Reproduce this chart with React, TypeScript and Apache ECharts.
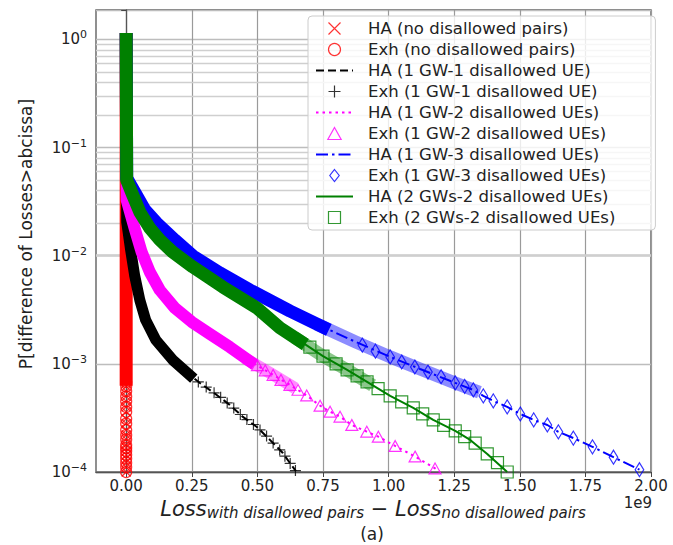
import { useEffect, useRef } from "react";
import * as echarts from "echarts";

const FONT = "DejaVu Sans";
const X_TICKS = [0, 0.25, 0.5, 0.75, 1, 1.25, 1.5, 1.75, 2];
const X_EXPONENT_LABEL = "1e9";
const Y_MINOR = [
  2e-4, 3e-4, 4e-4, 5e-4, 6e-4, 7e-4, 8e-4, 9e-4,
  2e-3, 3e-3, 4e-3, 5e-3, 6e-3, 7e-3, 8e-3, 9e-3,
  2e-2, 3e-2, 4e-2, 5e-2, 6e-2, 7e-2, 8e-2, 9e-2,
  0.2, 0.3, 0.4, 0.5, 0.6, 0.7, 0.8, 0.9,
];

// red: no disallowed pairs (all differences are zero)
const redColumnX = [0, 0];
const redColumnP = [1, 0.00072];
const redMarkP = [0.00068, 0.00062, 0.00056, 0.0005, 0.00045, 0.0004, 0.00036, 0.00031, 0.00028, 0.000245, 0.00022, 0.0002, 0.000178, 0.000167, 0.000156, 0.000144, 0.000133, 0.000122, 0.000111, 0.0001, 0.000092];

// black: 1 GW - 1 disallowed UE
const blackX = [0, 0.002, 0.017, 0.032, 0.052, 0.074, 0.113, 0.177, 0.242, 0.281, 0.345, 0.395, 0.445, 0.498, 0.548, 0.597, 0.624, 0.647];
const blackP = [1, 0.0205, 0.0113, 0.00663, 0.00388, 0.00255, 0.00166, 0.00109, 0.000789, 0.000666, 0.000516, 0.000417, 0.000323, 0.000261, 0.000198, 0.00015, 0.000121, 0.000102];
const blackMarkX = [0.19, 0.215, 0.245, 0.275, 0.305, 0.335, 0.36, 0.385, 0.41, 0.435, 0.46, 0.485, 0.51, 0.535, 0.56, 0.585, 0.605, 0.625, 0.645];
const blackMarkP = [0.001, 0.0009, 0.00078, 0.00068, 0.00061, 0.00054, 0.00049, 0.000435, 0.00039, 0.00034, 0.000305, 0.000275, 0.000245, 0.000215, 0.000185, 0.00016, 0.00014, 0.00012, 0.000103];

// magenta: 1 GW - 2 disallowed UEs
const magX = [0, 0.002, 0.032, 0.059, 0.09, 0.128, 0.185, 0.25, 0.319, 0.395, 0.471, 0.548, 0.624, 0.688, 0.739, 0.777, 0.815, 0.86, 0.917, 0.961, 1.025, 1.101, 1.177, 1.195];
const magP = [1, 0.0327, 0.018, 0.0108, 0.00707, 0.00482, 0.00329, 0.00244, 0.00189, 0.00143, 0.00106, 0.000824, 0.000638, 0.00051, 0.00041, 0.000361, 0.000325, 0.000272, 0.000236, 0.000212, 0.000174, 0.000139, 0.000108, 0.0001];
const magMarkX = [0.5, 0.53, 0.56, 0.59, 0.624, 0.655, 0.688, 0.739, 0.777, 0.815, 0.86, 0.917, 0.961, 1.025, 1.101, 1.177];
const magMarkP = [0.00097, 0.00087, 0.00079, 0.00071, 0.000638, 0.000575, 0.00051, 0.00041, 0.000361, 0.000325, 0.000272, 0.000236, 0.000212, 0.000174, 0.000139, 0.000108];

// blue: 1 GW - 3 disallowed UEs
const blueX = [0, 0.002, 0.032, 0.071, 0.116, 0.185, 0.254, 0.357, 0.471, 0.624, 0.75, 0.876, 1.006, 1.12, 1.254, 1.323, 1.361, 1.399, 1.452, 1.502, 1.553, 1.605, 1.647, 1.704, 1.777, 1.857, 1.956];
const blueP = [1, 0.0522, 0.0388, 0.0265, 0.0201, 0.014, 0.00994, 0.00692, 0.00482, 0.00308, 0.00219, 0.00159, 0.00116, 0.000897, 0.000666, 0.000574, 0.000505, 0.000454, 0.0004, 0.000344, 0.000303, 0.000272, 0.000235, 0.000206, 0.000171, 0.000137, 0.000105];
const blueMarkX = [0.9, 0.95, 1.006, 1.05, 1.1, 1.15, 1.2, 1.254, 1.29, 1.323, 1.361, 1.399, 1.452, 1.502, 1.553, 1.605, 1.647, 1.704, 1.777, 1.857, 1.956];
const blueMarkP = [0.00149, 0.00131, 0.00116, 0.00104, 0.000935, 0.00084, 0.00076, 0.000666, 0.00062, 0.000574, 0.000505, 0.000454, 0.0004, 0.000344, 0.000303, 0.000272, 0.000235, 0.000206, 0.000171, 0.000137, 0.000105];

// green: 2 GWs - 2 disallowed UEs
const greenX = [0, 0.002, 0.025, 0.052, 0.09, 0.128, 0.177, 0.254, 0.368, 0.498, 0.586, 0.662, 0.75, 0.842, 0.918, 1.006, 1.094, 1.17, 1.254, 1.311, 1.376, 1.452];
const greenP = [1, 0.0501, 0.0364, 0.0253, 0.018, 0.014, 0.0108, 0.00787, 0.00514, 0.00329, 0.00215, 0.00163, 0.00118, 0.000879, 0.00068, 0.000505, 0.000391, 0.000303, 0.00024, 0.000198, 0.000147, 0.0001];
const greenMarkX = [0.7, 0.75, 0.8, 0.842, 0.88, 0.918, 0.96, 1.006, 1.05, 1.094, 1.13, 1.17, 1.21, 1.254, 1.29, 1.33, 1.376, 1.415, 1.452];
const greenMarkP = [0.00143, 0.00118, 0.001, 0.000879, 0.000775, 0.00068, 0.00059, 0.000505, 0.000445, 0.000391, 0.000345, 0.000303, 0.00027, 0.00024, 0.000212, 0.000185, 0.000147, 0.000122, 0.0001];

const SERIES_NAMES = [
  "HA (no disallowed pairs)",
  "Exh (no disallowed pairs)",
  "HA (1 GW-1 disallowed UE)",
  "Exh (1 GW-1 disallowed UE)",
  "HA (1 GW-2 disallowed UEs)",
  "Exh (1 GW-2 disallowed UEs)",
  "HA (1 GW-3 disallowed UEs)",
  "Exh (1 GW-3 disallowed UEs)",
  "HA (2 GWs-2 disallowed UEs)",
  "Exh (2 GWs-2 disallowed UEs)",
];
const LINE_LEGEND_ITEMS = [2, 4, 6, 8];

const RED = "#ff0000";
const BLACK = "#000000";
const MAGENTA = "#ff00ff";
const BLUE = "#0000ff";
const GREEN = "#008000";

const CROSS = "path://M0,0L10,10M10,0L0,10";
const PLUS = "path://M5,0L5,10M0,5L10,5";
const DIAMOND = "path://M5.5,0L11,7L5.5,14L0,7Z";
const TRIANGLE = "path://M5,0L10,9L0,9Z";
const SQUARE = "path://M0,0L10,0L10,10L0,10Z";

const zip = (xs: number[], ps: number[]) => xs.map((x, i) => [x, ps[i]]);

const band = (name: string, data: number[][], color: string, width: number, opacity = 1) => ({
  name,
  type: "line",
  data,
  symbol: "none",
  showSymbol: false,
  silent: true,
  lineStyle: { color, width, opacity, cap: "square", join: "round" },
  itemStyle: { color },
});

const haLine = (name: string, data: number[][], color: string, type: any) => ({
  name,
  type: "line",
  data,
  symbol: "none",
  showSymbol: false,
  lineStyle: { color, width: 2, type },
  itemStyle: { color },
});

const exh = (name: string, data: number[][], color: string, symbol: string, size: any, bw = 1.2) => ({
  name,
  type: "scatter",
  data,
  symbol,
  symbolSize: size,
  symbolKeepAspect: true,
  itemStyle: { color: "rgba(0,0,0,0)", borderColor: color, borderWidth: bw },
});

export default function App() {
  const ref = useRef<HTMLDivElement>(null);
  useEffect(() => {
    if (!ref.current) return;
    const chart = echarts.init(ref.current, null, { renderer: "svg" });
    const redCol = zip(redColumnX, redColumnP);
    const redMarks = redMarkP.map((p) => [0, p]);
    const black = zip(blackX, blackP);
    const mag = zip(magX, magP);
    const blue = zip(blueX, blueP);
    const green = zip(greenX, greenP);
    const legendData = SERIES_NAMES.map((name, i) =>
      LINE_LEGEND_ITEMS.includes(i)
        ? { name, itemStyle: { color: "rgba(0,0,0,0)", borderWidth: 0, opacity: 0 } }
        : { name }
    );
    const option: any = {
      animation: false,
      backgroundColor: "#ffffff",
      grid: {
        left: 96,
        right: 22,
        top: 10,
        bottom: 73,
        show: true,
        borderColor: "#555",
        borderWidth: 1.3,
        backgroundColor: "transparent",
      },
      legend: {
        orient: "vertical",
        left: 308,
        top: 16,
        padding: [4, 40, 4, 7],
        itemWidth: 37,
        itemHeight: 12,
        itemGap: 4,
        backgroundColor: "rgba(255,255,255,0.8)",
        borderColor: "#cccccc",
        borderWidth: 1,
        borderRadius: 4,
        selectedMode: false,
        symbolKeepAspect: true,
        itemStyle: { borderWidth: 1.2 },
        textStyle: { fontFamily: FONT, fontSize: 16.5, color: "#222", lineHeight: 16, padding: [0, 0, 0, 10] },
        data: legendData,
      },
      xAxis: {
        type: "value",
        min: -0.115,
        max: 2.0,
        axisLine: { show: true, lineStyle: { color: "#555", width: 1.3 } },
        axisTick: { show: true, customValues: X_TICKS, length: 5, lineStyle: { color: "#444" } },
        axisLabel: {
          customValues: X_TICKS,
          formatter: (v: number) => v.toFixed(2),
          fontFamily: FONT,
          fontSize: 15,
          color: "#222",
          margin: 6,
        },
        splitLine: { show: true, lineStyle: { color: "#9a9a9a", width: 1.2 } },
      },
      yAxis: {
        type: "log",
        logBase: 10,
        min: 1e-4,
        max: 1.87,
        axisLine: { show: true, lineStyle: { color: "#555", width: 1.3 } },
        axisTick: { show: true, length: 5, lineStyle: { color: "#444" } },
        axisLabel: {
          margin: 9,
          formatter: (v: number) => {
            const e = Math.log10(v);
            const r = Math.round(e);
            if (Math.abs(e - r) > 1e-6) return "";
            return `{b|10}{e|${r < 0 ? "\u2212" + -r : r}}`;
          },
          rich: {
            b: { fontFamily: FONT, fontSize: 15, color: "#222" },
            e: { fontFamily: FONT, fontSize: 11, color: "#222", padding: [0, 0, 9, 0] },
          },
        },
        splitLine: { show: true, lineStyle: { color: "#bdbdbd", width: 1.3 } },
      },
      graphic: [
        {
          type: "text",
          x: 26,
          y: 234,
          rotation: Math.PI / 2,
          style: {
            text: "P[difference of Losses>abcissa]",
            font: `17px "${FONT}"`,
            fill: "#222",
            align: "center",
            verticalAlign: "middle",
          },
        },
        {
          type: "text",
          x: 373,
          y: 509,
          style: {
            text: "{m|Loss}{s|with disallowed pairs}{n| \u2212 }{m|Loss}{s|no disallowed pairs}",
            align: "center",
            verticalAlign: "middle",
            fill: "#222",
            rich: {
              m: { fontFamily: FONT, fontSize: 21, fontStyle: "italic", fill: "#222" },
              s: { fontFamily: FONT, fontSize: 15, fontStyle: "italic", fill: "#222", padding: [7, 0, 0, 0] },
              n: { fontFamily: FONT, fontSize: 21, fill: "#222" },
            },
          },
        },
        {
          type: "text",
          x: 652,
          y: 503,
          style: { text: X_EXPONENT_LABEL, font: `15px "${FONT}"`, fill: "#222", align: "right", verticalAlign: "middle" },
        },
        {
          type: "text",
          x: 372,
          y: 534,
          style: { text: "(a)", font: `17px "${FONT}"`, fill: "#222", align: "center", verticalAlign: "middle" },
        },
      ],
      series: [
        {
          name: "minor-grid",
          type: "line",
          data: [],
          silent: true,
          markLine: {
            z: 1,
            silent: true,
            symbol: ["none", "none"],
            label: { show: false },
            lineStyle: { color: "#cfcfcf", width: 1.3, type: "solid" },
            data: Y_MINOR.map((v) => ({ yAxis: v })),
          },
        },
        // red
        band("red-band", redCol, RED, 13),
        exh(SERIES_NAMES[0], redMarks, RED, CROSS, 9),
        exh(SERIES_NAMES[1], redMarks, RED, "circle", 11),
        // black
        band("black-band", black.slice(0, 9), BLACK, 11),
        haLine(SERIES_NAMES[2], black, BLACK, [8, 4]),
        exh(SERIES_NAMES[3], zip(blackMarkX, blackMarkP), BLACK, PLUS, 11),
        // magenta
        band("mag-band", mag.slice(0, 11), MAGENTA, 12),
        band("mag-semi", mag.slice(10, 13), MAGENTA, 12, 0.45),
        haLine(SERIES_NAMES[4], mag, MAGENTA, [2.5, 4]),
        exh(SERIES_NAMES[5], zip(magMarkX, magMarkP), MAGENTA, TRIANGLE, 12),
        // blue
        band("blue-band", blue.slice(0, 11), BLUE, 13),
        band("blue-semi", blue.slice(10, 16), BLUE, 13, 0.45),
        haLine(SERIES_NAMES[6], blue, BLUE, [12, 4, 2.5, 4]),
        exh(SERIES_NAMES[7], zip(blueMarkX, blueMarkP), BLUE, DIAMOND, [11, 14]),
        // green
        band("green-band", green.slice(0, 12), GREEN, 13),
        band("green-semi", green.slice(11, 15), GREEN, 13, 0.45),
        haLine(SERIES_NAMES[8], green, GREEN, "solid"),
        exh(SERIES_NAMES[9], zip(greenMarkX, greenMarkP), GREEN, SQUARE, 12),
      ],
    };
    chart.setOption(option);
    return () => chart.dispose();
  }, []);
  return (
    <div
      ref={ref}
      style={{ position: "fixed", left: 0, top: 0, width: 673, height: 545, background: "#fff" }}
    />
  );
}
